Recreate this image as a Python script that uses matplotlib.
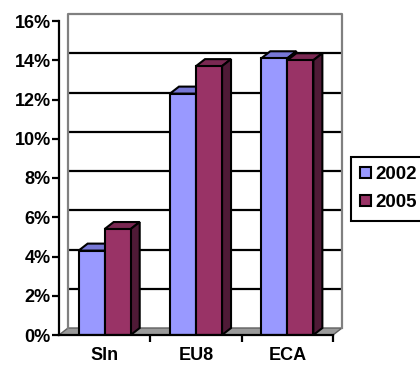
import matplotlib
matplotlib.use("Agg")
import matplotlib.pyplot as plt
from matplotlib.patches import Polygon, Patch
import numpy as np

plt.rcParams['font.family'] = ['Liberation Sans', 'DejaVu Sans']
plt.rcParams['font.weight'] = 'bold'

categories = ["Sln", "EU8", "ECA"]
series_names = ["2002", "2005"]
values_2002 = [4.3, 12.3, 14.1]
values_2005 = [5.4, 13.7, 14.0]
y_ticks = [0, 2, 4, 6, 8, 10, 12, 14, 16]
y_tick_labels = ["0%", "2%", "4%", "6%", "8%", "10%", "12%", "14%", "16%"]

front_colors = ["#9999FF", "#993366"]
top_colors = ["#7777D6", "#7A2852"]
side_colors = ["#5C5CB0", "#4F1A36"]

W, H = 420, 366
fig = plt.figure(figsize=(W / 100, H / 100), dpi=100)
ax_l, ax_r, ax_t, ax_b = 59, 333, 21, 335
ax = fig.add_axes([ax_l / W, (H - ax_b) / H, (ax_r - ax_l) / W, (ax_b - ax_t) / H])
ax.set_xlim(-0.5, 2.5)
ax.set_ylim(0, 16)

# depth offsets in data units (from pixel offsets)
px_x = 3 / (ax_r - ax_l)
px_y = 16 / (ax_b - ax_t)
dx = 9 * px_x
dy = 7 * px_y

# floor
floor = Polygon([(-0.5, 0), (2.5, 0), (2.5 + dx, dy), (-0.5 + dx, dy)], closed=True,
                facecolor="#9a9a9a", edgecolor="#606060", lw=1.0, clip_on=False, zorder=1)
ax.add_patch(floor)

# back wall gridlines
for v in y_ticks[1:-1]:
    ax.plot([-0.5 + dx, 2.5 + dx], [v + dy, v + dy], color="black", lw=1.6,
            clip_on=False, zorder=1.5, solid_capstyle="butt")
# back wall border (gray)
ax.plot([-0.5 + dx, -0.5 + dx, 2.5 + dx, 2.5 + dx], [dy, 16 + dy, 16 + dy, dy],
        color="#808080", lw=1.6, clip_on=False, zorder=1.6)

# bars
bw = 0.285
x = np.arange(len(categories))
for ci in range(len(categories)):
    for si, vals in enumerate([values_2002, values_2005]):
        v = vals[ci]
        x0 = x[ci] - bw + si * bw
        x1 = x0 + bw
        z = 3 + ci * 2 + si
        ax.bar(x0, v, width=bw, align="edge", color=front_colors[si], edgecolor="black",
               lw=1.5, zorder=z + 0.2)
        top = Polygon([(x0, v), (x1, v), (x1 + dx, v + dy), (x0 + dx, v + dy)], closed=True,
                      facecolor=top_colors[si], edgecolor="black", lw=1.5, clip_on=False, zorder=z)
        side = Polygon([(x1, 0), (x1 + dx, dy), (x1 + dx, v + dy), (x1, v)], closed=True,
                       facecolor=side_colors[si], edgecolor="black", lw=1.5, clip_on=False, zorder=z)
        ax.add_patch(top)
        ax.add_patch(side)

# axes styling
for s in ["top", "right"]:
    ax.spines[s].set_visible(False)
for s in ["left", "bottom"]:
    ax.spines[s].set_linewidth(1.6)
    ax.spines[s].set_zorder(20)
ax.set_yticks(y_ticks)
ax.set_yticklabels(y_tick_labels, fontsize=13, fontweight="bold")
ax.tick_params(axis="y", direction="out", length=5, width=1.6, pad=1)
ax.set_xticks(x)
ax.set_xticklabels(categories, fontsize=13, fontweight="bold")
ax.set_xticks([0.5, 1.5, 2.5], minor=True)
ax.tick_params(axis="x", which="major", length=0, pad=9)
ax.tick_params(axis="x", which="minor", direction="out", length=5, width=1.6)

handles = [Patch(facecolor=front_colors[i], edgecolor="black", lw=1.5) for i in range(2)]
leg = fig.legend(handles, series_names, loc="upper left", bbox_to_anchor=(351 / W, 1 - 157 / H),
                 prop={"family": "Liberation Sans", "weight": "bold", "size": 13.5},
                 handlelength=0.55, handleheight=0.55, handletextpad=0.25, borderpad=0.5,
                 labelspacing=0.58, borderaxespad=0, fancybox=False, framealpha=1)
leg.get_frame().set_edgecolor("black")
leg.get_frame().set_linewidth(1.5)

fig.savefig("out.png", dpi=100)
